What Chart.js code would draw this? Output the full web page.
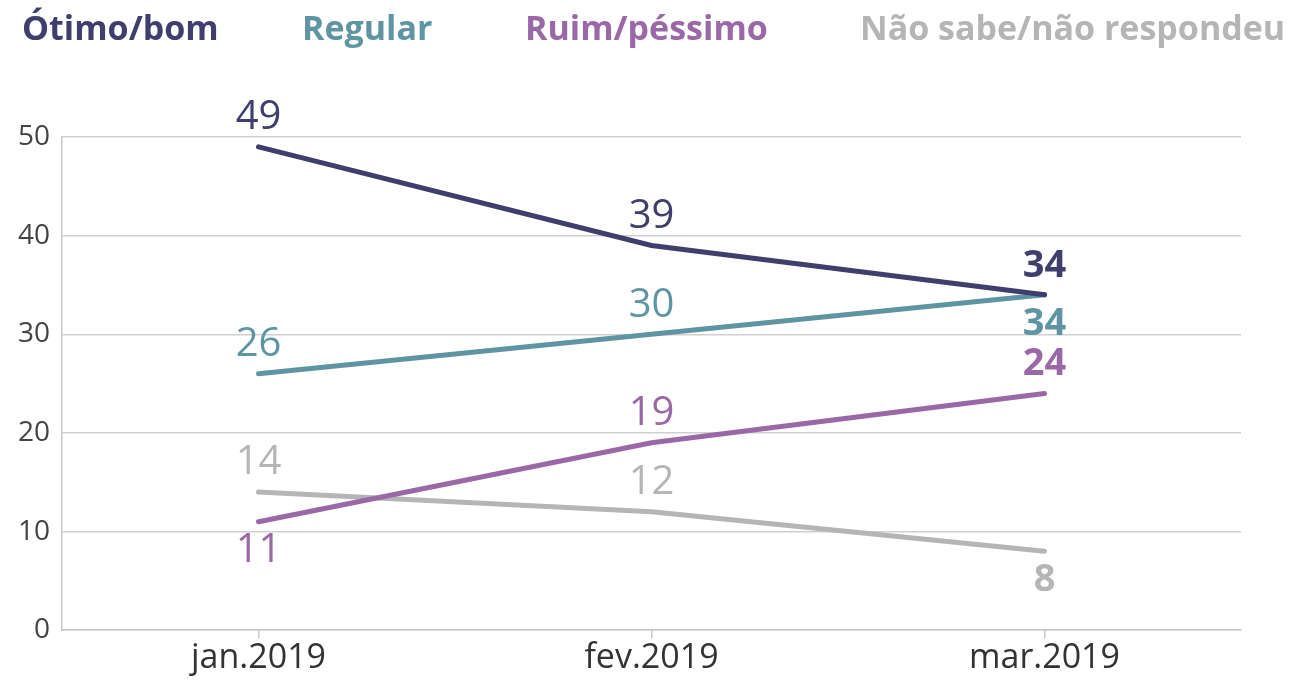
<!DOCTYPE html>
<html>
<head>
<meta charset="utf-8">
<script src="https://cdn.jsdelivr.net/npm/chart.js"></script>
<style>
  body { margin: 0; background: #fff; }
  #wrap { width: 1299px; height: 691px; position: relative; }
</style>
</head>
<body>
<div id="wrap"><canvas id="graph"></canvas></div>
<script>
const months = ['jan.2019', 'fev.2019', 'mar.2019'];
const otimoBom = [49, 39, 34];
const regular = [26, 30, 34];
const ruimPessimo = [11, 19, 24];
const naoSabe = [14, 12, 8];
const yTicks = [0, 10, 20, 30, 40, 50];

const navy = '#3f3e6c';
const teal = '#5f95a3';
const purple = '#9a68a6';
const grey = '#b5b5b5';

// where the value label sits for each point: -1 above, 1 below
const labelSide = [
  [-1, -1, -1],
  [-1, -1, 1],
  [1, -1, -1],
  [-1, -1, 1]
];
const legendX = [22, 302, 525, 860];

const ctx = document.getElementById('graph');

const topLegend = {
  id: 'topLegend',
  afterDraw(chart) {
    const c = chart.ctx;
    c.save();
    c.font = 'bold 34px "Open Sans"';
    c.textBaseline = 'middle';
    c.textAlign = 'left';
    chart.data.datasets.forEach((ds, i) => {
      c.fillStyle = ds.borderColor;
      c.fillText(ds.label, legendX[i], 30);
    });
    c.restore();
  }
};

const valueLabels = {
  id: 'valueLabels',
  afterDatasetsDraw(chart) {
    const c = chart.ctx;
    c.save();
    c.textAlign = 'center';
    c.textBaseline = 'middle';
    chart.data.datasets.forEach((ds, i) => {
      const meta = chart.getDatasetMeta(i);
      meta.data.forEach((pt, j) => {
        const last = j === meta.data.length - 1;
        c.font = last ? 'bold 38px "Open Sans"' : '40px "Open Sans"';
        c.fillStyle = ds.borderColor;
        c.fillText(String(ds.data[j]), pt.x, pt.y + labelSide[i][j] * 29);
      });
    });
    c.restore();
  }
};

function series(label, data, color) {
  return {
    label: label,
    data: data,
    borderColor: color,
    backgroundColor: color,
    borderWidth: 5,
    pointRadius: 0,
    tension: 0,
    borderCapStyle: 'round'
  };
}

new Chart(ctx, {
  type: 'line',
  data: {
    labels: months,
    datasets: [
      series('Ótimo/bom', otimoBom, navy),
      series('Regular', regular, teal),
      series('Ruim/péssimo', ruimPessimo, purple),
      series('Não sabe/não respondeu', naoSabe, grey)
    ]
  },
  options: {
    responsive: true,
    maintainAspectRatio: false,
    animation: false,
    layout: { padding: { top: 137, right: 58, left: 6, bottom: 12 } },
    plugins: {
      legend: { display: false },
      tooltip: { enabled: false }
    },
    scales: {
      x: {
        offset: true,
        grid: { offset: false, drawOnChartArea: false, tickLength: 8, color: '#c8c8c8', lineWidth: 1.5 },
        border: { color: '#c8c8c8', width: 1.5 },
        ticks: { color: '#333', font: { family: 'Open Sans', size: 34 }, padding: 0 }
      },
      y: {
        min: 0,
        max: 50,
        afterBuildTicks(axis) { axis.ticks = yTicks.map(v => ({ value: v })); },
        grid: { drawTicks: false, color: '#cfcfcf', lineWidth: 1.5 },
        border: { color: '#c8c8c8', width: 1.5 },
        ticks: { color: '#444', font: { family: 'Open Sans', size: 28 }, padding: 12 }
      }
    }
  },
  plugins: [topLegend, valueLabels]
});
</script>
</body>
</html>
